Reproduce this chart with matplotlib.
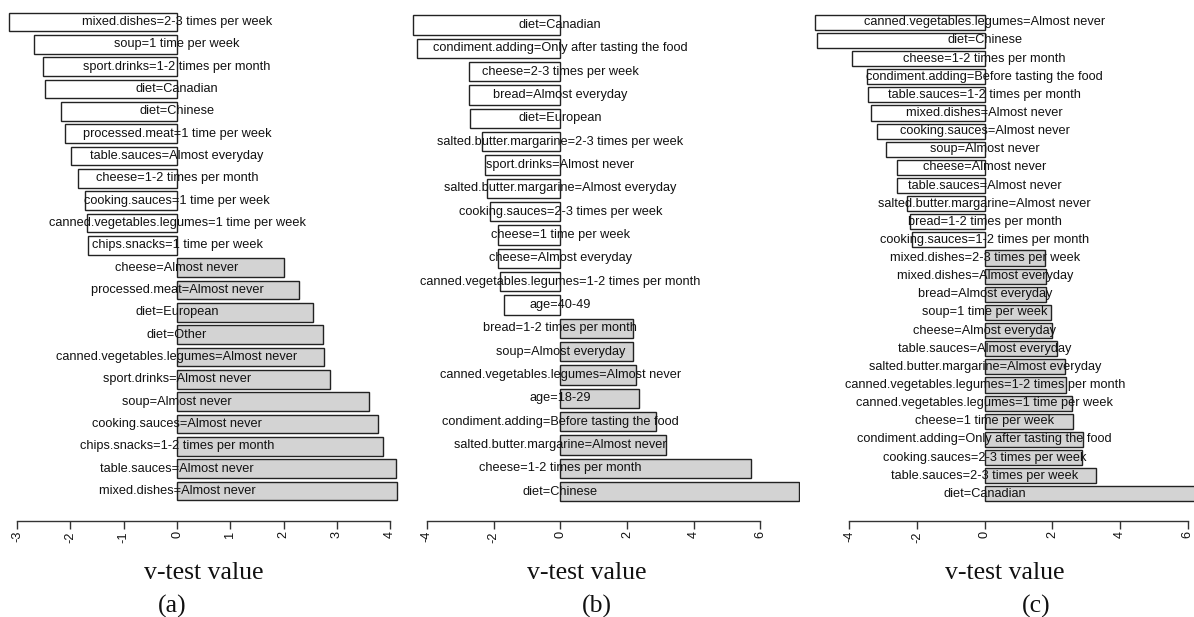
import matplotlib
matplotlib.use("Agg")
import matplotlib.pyplot as plt

# ---- v-test values per cluster (listed top to bottom) ----
labels_a = [
    "mixed.dishes=2-3 times per week", "soup=1 time per week",
    "sport.drinks=1-2 times per month", "diet=Canadian", "diet=Chinese",
    "processed.meat=1 time per week", "table.sauces=Almost everyday",
    "cheese=1-2 times per month", "cooking.sauces=1 time per week",
    "canned.vegetables.legumes=1 time per week", "chips.snacks=1 time per week",
    "cheese=Almost never", "processed.meat=Almost never", "diet=European",
    "diet=Other", "canned.vegetables.legumes=Almost never",
    "sport.drinks=Almost never", "soup=Almost never",
    "cooking.sauces=Almost never", "chips.snacks=1-2 times per month",
    "table.sauces=Almost never", "mixed.dishes=Almost never",
]
values_a = [-3.15, -2.69, -2.52, -2.48, -2.18, -2.11, -1.99, -1.86, -1.73,
            -1.68, -1.67, 2.01, 2.29, 2.55, 2.74, 2.76, 2.87, 3.60, 3.78,
            3.87, 4.11, 4.12]

labels_b = [
    "diet=Canadian", "condiment.adding=Only after tasting the food",
    "cheese=2-3 times per week", "bread=Almost everyday", "diet=European",
    "salted.butter.margarine=2-3 times per week", "sport.drinks=Almost never",
    "salted.butter.margarine=Almost everyday",
    "cooking.sauces=2-3 times per week", "cheese=1 time per week",
    "cheese=Almost everyday", "canned.vegetables.legumes=1-2 times per month",
    "age=40-49", "bread=1-2 times per month", "soup=Almost everyday",
    "canned.vegetables.legumes=Almost never", "age=18-29",
    "condiment.adding=Before tasting the food",
    "salted.butter.margarine=Almost never", "cheese=1-2 times per month",
    "diet=Chinese",
]
values_b = [-4.43, -4.29, -2.73, -2.73, -2.70, -2.36, -2.25, -2.19, -2.10,
            -1.87, -1.86, -1.81, -1.69, 2.17, 2.18, 2.28, 2.37, 2.88, 3.17,
            5.72, 7.16]

labels_c = [
    "canned.vegetables.legumes=Almost never", "diet=Chinese",
    "cheese=1-2 times per month", "condiment.adding=Before tasting the food",
    "table.sauces=1-2 times per month", "mixed.dishes=Almost never",
    "cooking.sauces=Almost never", "soup=Almost never", "cheese=Almost never",
    "table.sauces=Almost never", "salted.butter.margarine=Almost never",
    "bread=1-2 times per month", "cooking.sauces=1-2 times per month",
    "mixed.dishes=2-3 times per week", "mixed.dishes=Almost everyday",
    "bread=Almost everyday", "soup=1 time per week", "cheese=Almost everyday",
    "table.sauces=Almost everyday", "salted.butter.margarine=Almost everyday",
    "canned.vegetables.legumes=1-2 times per month",
    "canned.vegetables.legumes=1 time per week", "cheese=1 time per week",
    "condiment.adding=Only after tasting the food",
    "cooking.sauces=2-3 times per week", "table.sauces=2-3 times per week",
    "diet=Canadian",
]
values_c = [-5.02, -4.97, -3.91, -3.47, -3.44, -3.35, -3.17, -2.91, -2.60,
            -2.60, -2.31, -2.21, -2.15, 1.77, 1.80, 1.81, 1.95, 2.00, 2.15,
            2.38, 2.41, 2.58, 2.61, 2.90, 2.89, 3.30, 6.50]

ticks_a = [-3, -2, -1, 0, 1, 2, 3, 4]
ticks_b = [-4, -2, 0, 2, 4, 6]
ticks_c = [-4, -2, 0, 2, 4, 6]

W, H = 1194, 617
AXIS_PX = 520.7
TOP_PX = 2.0
SANS = "Liberation Sans"
SERIF = "Liberation Serif"

fig = plt.figure(figsize=(W / 100, H / 100), dpi=100)
fig.patch.set_facecolor("white")


def panel(labels, values, ticks, x0, x1, zero_px, ppu, top_c, bot_c,
          xlab_x, tag_x, tag):
    n = len(values)
    spacing = (bot_c - top_c) / (n - 1)
    xlim = ((x0 - zero_px) / ppu, (x1 - zero_px) / ppu)
    ylim = ((bot_c - AXIS_PX) / spacing, (bot_c - TOP_PX) / spacing)
    ax = fig.add_axes([x0 / W, (H - AXIS_PX) / H, (x1 - x0) / W,
                       (AXIS_PX - TOP_PX) / H])
    ax.set_xlim(*xlim)
    ax.set_ylim(*ylim)
    ypos = [n - 1 - k for k in range(n)]
    colors = ["#d3d3d3" if v > 0 else "white" for v in values]
    ax.barh(ypos, values, height=0.833, color=colors, edgecolor="#222222",
            linewidth=1.0, zorder=2)
    for y, lab in zip(ypos, labels):
        ax.text(0, y, lab, ha="center", va="center", fontsize=9.2,
                family=SANS, color="#111111", zorder=3, clip_on=False)
    for s in ("top", "right", "left"):
        ax.spines[s].set_visible(False)
    ax.spines["bottom"].set_bounds(ticks[0], ticks[-1])
    ax.spines["bottom"].set_color("#333333")
    ax.spines["bottom"].set_linewidth(1.0)
    ax.set_yticks([])
    ax.set_xticks(ticks)
    ax.set_xticklabels([str(t) for t in ticks], rotation=90, fontsize=9.2,
                       family=SANS, color="#111111")
    ax.tick_params(axis="x", direction="out", length=5.5, width=1.0,
                   color="#333333", pad=2)
    ax.patch.set_alpha(0)
    fig.text(xlab_x / W, 1 - 573 / H, "v-test value", ha="center",
             va="center", fontsize=18.5, family=SERIF, color="#111111")
    fig.text(tag_x / W, 1 - 606 / H, tag, ha="center", va="center",
             fontsize=18.5, family=SERIF, color="#111111")
    return ax


panel(labels_a, values_a, ticks_a, 0, 400, 177.0, 53.3, 22.0, 491.0,
      204, 172, "(a)")
panel(labels_b, values_b, ticks_b, 405, 800, 560.3, 33.36, 25.0, 491.7,
      587, 597, "(b)")
panel(labels_c, values_c, ticks_c, 805, 1194, 984.7, 33.84, 22.3, 493.8,
      1005, 1036, "(c)")

fig.savefig("out.png", dpi=100, facecolor="white")
